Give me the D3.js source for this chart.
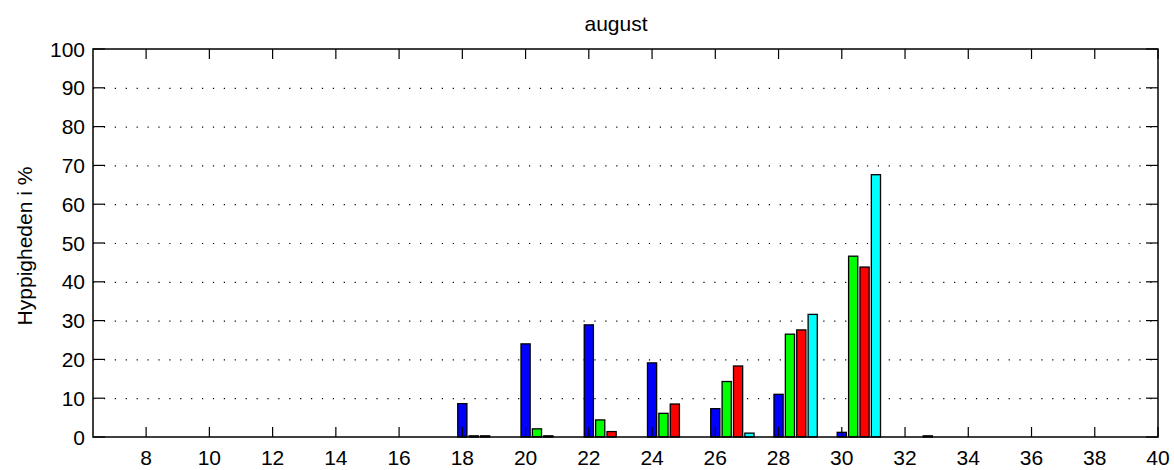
<!DOCTYPE html>
<html>
<head>
<meta charset="utf-8">
<script src="https://cdn.jsdelivr.net/npm/d3@7"></script>
<style>
  body { margin: 0; background: #fff; }
  text { font-family: "Liberation Sans", Arial, Helvetica, sans-serif; fill: #000; }
</style>
</head>
<body>
<svg id="chart" width="1174" height="470"></svg>
<script>
// bin start (x) for each group of bars
const groups = [18, 20, 22, 24, 26, 28, 30, 32];

// frequencies in %, one array per series
const blueVals  = [8.6, 24.0, 28.9, 19.1, 7.3, 11.0, 1.2, 0];
const greenVals = [0.3, 2.1, 4.4, 6.1, 14.3, 26.5, 46.6, 0];
const redVals   = [0.3, 0.3, 1.4, 8.5, 18.3, 27.6, 43.8, 0.3];
const cyanVals  = [0, 0, 0, 0, 1.0, 31.6, 67.6, 0];

const seriesColors = ["#0000ff", "#00ff00", "#ff0000", "#00ffff"];

const xTicks = [8, 10, 12, 14, 16, 18, 20, 22, 24, 26, 28, 30, 32, 34, 36, 38, 40];
const yTicks = [0, 10, 20, 30, 40, 50, 60, 70, 80, 90, 100];

const titleText = "august";
const yLabelText = "Hyppigheden i %";

const margin = { left: 93, right: 16, top: 49, bottom: 33 };

function drawChart(id) {
    let svg = d3.select("#" + id);
    let width = +svg.attr("width");
    let height = +svg.attr("height");

    let x = d3.scaleLinear().domain([6.32, 40]).range([margin.left, width - margin.right]);
    let y = d3.scaleLinear().domain([0, 100]).range([height - margin.bottom, margin.top]);

    let x0 = x.range()[0], x1 = x.range()[1];
    let y0 = y.range()[0], y1 = y.range()[1];

    // dotted grid
    svg.append("g")
        .selectAll("line")
        .data(yTicks.filter(t => t > 0 && t < 100))
        .join("line")
        .attr("x1", x0).attr("x2", x1)
        .attr("y1", d => y(d) + 0.5).attr("y2", d => y(d) + 0.5)
        .attr("stroke", "#000")
        .attr("stroke-width", 1.2)
        .attr("stroke-dasharray", "1.2,9.7");

    // bars
    let series = [blueVals, greenVals, redVals, cyanVals];
    let step = 0.36, bw = 0.29;
    let bars = [];
    series.forEach((vals, s) => {
        vals.forEach((v, i) => {
            if (v > 0) bars.push({ x: groups[i] + s * step, v: v, c: seriesColors[s] });
        });
    });

    svg.append("g")
        .selectAll("rect")
        .data(bars)
        .join("rect")
        .attr("x", d => x(d.x - bw / 2))
        .attr("width", d => x(d.x + bw / 2) - x(d.x - bw / 2))
        .attr("y", d => y(d.v))
        .attr("height", d => y(0) - y(d.v))
        .attr("fill", d => d.c)
        .attr("stroke", "#000")
        .attr("stroke-width", 1.3);

    // ticks inside the box, all four sides
    let tickG = svg.append("g").attr("stroke", "#000").attr("stroke-width", 1.2);
    xTicks.forEach(t => {
        tickG.append("line").attr("x1", x(t)).attr("x2", x(t)).attr("y1", y0).attr("y2", y0 - 10);
        tickG.append("line").attr("x1", x(t)).attr("x2", x(t)).attr("y1", y1).attr("y2", y1 + 10);
    });
    yTicks.forEach(t => {
        tickG.append("line").attr("x1", x0).attr("x2", x0 + 12).attr("y1", y(t)).attr("y2", y(t));
        tickG.append("line").attr("x1", x1).attr("x2", x1 - 12).attr("y1", y(t)).attr("y2", y(t));
    });

    // box
    svg.append("rect")
        .attr("x", x0).attr("y", y1)
        .attr("width", x1 - x0).attr("height", y0 - y1)
        .attr("fill", "none")
        .attr("stroke", "#000")
        .attr("stroke-width", 1.5);

    // tick labels
    svg.append("g")
        .selectAll("text")
        .data(xTicks)
        .join("text")
        .attr("x", d => x(d))
        .attr("y", y0 + 28)
        .attr("text-anchor", "middle")
        .attr("font-size", 21)
        .text(d => d);

    svg.append("g")
        .selectAll("text")
        .data(yTicks)
        .join("text")
        .attr("x", x0 - 8)
        .attr("y", d => y(d))
        .attr("text-anchor", "end")
        .attr("dominant-baseline", "central")
        .attr("font-size", 21)
        .text(d => d);

    // title
    svg.append("text")
        .attr("x", 616)
        .attr("y", 31)
        .attr("text-anchor", "middle")
        .attr("font-size", 21)
        .text(titleText);

    // y label
    svg.append("text")
        .attr("transform", `translate(32, ${(y0 + y1) / 2 + 3}) rotate(-90)`)
        .attr("text-anchor", "middle")
        .attr("font-size", 21)
        .text(yLabelText);
}

drawChart("chart");
</script>
</body>
</html>
